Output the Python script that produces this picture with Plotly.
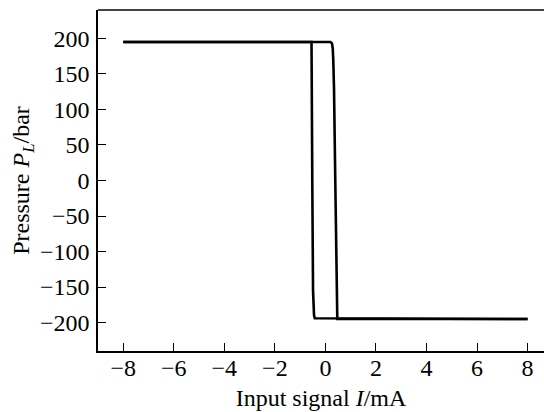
import plotly.graph_objects as go

# Hysteresis loop of load pressure versus input current
# Branch swept with rising current (switches near +0.3..0.47 mA)
current_rising = [-8, 0.10, 0.20, 0.26, 0.29, 0.31, 0.34, 0.39, 0.44, 0.46, 0.47, 8]
pressure_rising = [195, 195, 195, 193, 186, 170, 130, 0, -155, -185, -195, -195]

# Branch swept with falling current (switches near -0.42..-0.55 mA)
current_falling = [8, -0.38, -0.42, -0.45, -0.47, -0.49, -0.52, -0.55, -0.55, -8]
pressure_falling = [-195, -195, -194, -190, -180, -155, 0, 180, 195, 195]

x_ticks = [-8, -6, -4, -2, 0, 2, 4, 6, 8]
y_ticks = [-200, -150, -100, -50, 0, 50, 100, 150, 200]

FONT = "Liberation Serif, Times New Roman, serif"
SIZE = 24

fig = go.Figure()
for xs, ys in [(current_rising, pressure_rising), (current_falling, pressure_falling)]:
    fig.add_trace(go.Scatter(
        x=xs, y=ys, mode="lines",
        line=dict(color="black", width=2.6),
        showlegend=False, hoverinfo="skip",
    ))

axis_common = dict(
    showgrid=False, zeroline=False,
    showline=True, linecolor="black", linewidth=1.5,
    ticks="inside", ticklen=8, tickwidth=1.2, tickcolor="black",
    tickfont=dict(family=FONT, size=SIZE, color="black"),
)

fig.update_xaxes(
    range=[-9, 8.65], tickvals=x_ticks,
    title=dict(text="Input signal <i>I</i>/mA", font=dict(family=FONT, size=SIZE, color="black"), standoff=10),
    ticklabelstandoff=-6,
    **axis_common,
)
fig.update_yaxes(
    range=[-240, 240], tickvals=y_ticks,
    title=dict(text="Pressure <i>P</i><sub><i>L</i></sub>/bar", font=dict(family=FONT, size=SIZE, color="black"), standoff=4),
    ticklabelstandoff=2,
    **axis_common,
)

# top frame line
fig.add_shape(type="line", xref="paper", yref="paper", x0=0, x1=1, y0=1, y1=1,
              line=dict(color="#444444", width=2))

fig.update_layout(
    width=544, height=412,
    margin=dict(l=98, r=0, t=10, b=61),
    paper_bgcolor="white", plot_bgcolor="white",
)

fig.write_html("out.html")
